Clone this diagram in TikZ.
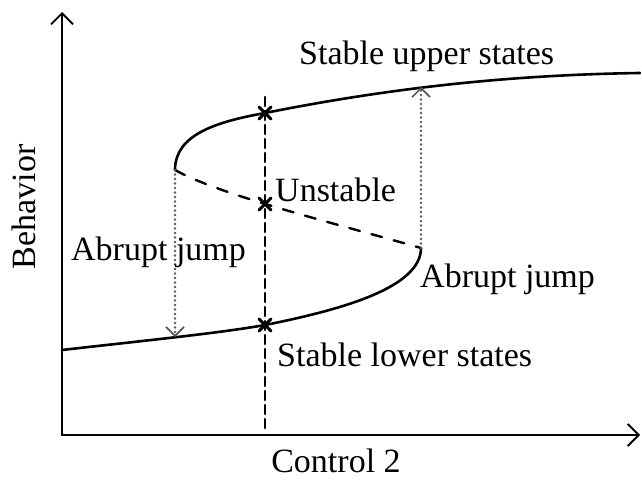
\documentclass[tikz,border=0pt]{standalone}
\usepackage{fontspec}
\setmainfont{Liberation Serif}
\usetikzlibrary{arrows.meta}
\begin{document}
\begin{tikzpicture}[x=1pt, y=-1pt, line cap=round,
  every node/.style={font=\fontsize{34}{40}\selectfont, inner sep=0pt},
  branch/.style={line width=2.6pt},
  jump/.style={gray!70!black, line width=2.8pt, dash pattern=on 0pt off 4.5pt, -{Straight Barb[length=9pt, width=18pt, line width=1.6pt]}},
  cross/.style={line width=3pt}]
\useasboundingbox (0,0) rectangle (642,479);

% Axes
\draw[line width=2.2pt, -{Straight Barb[length=11pt, width=22pt, line width=1.8pt]}] (62,435) -- (62,12);
\draw[line width=2.2pt, -{Straight Barb[length=11pt, width=22pt, line width=1.8pt]}] (62,435) -- (640,435);
\node[rotate=90, anchor=base] (ylab) at (35,207) {Behavior};
\node[anchor=base] (xlab) at (336,472) {Control 2};

% Turning points and crossings
\coordinate (upturn) at (175,170);
\coordinate (lowturn) at (421,248);
\coordinate (upland) at (175,337);
\coordinate (lowland) at (421,87);
\coordinate (xup) at (265,113);
\coordinate (xmid) at (265,204);
\coordinate (xlow) at (265,325);

% Stable branches
\draw[branch] (upturn) .. controls (175,135) and (215,122) .. (xup)
  .. controls (380,90) and (500,75) .. (640,73);
\draw[branch] (62,350) .. controls (150,340) and (220,333) .. (xlow)
  .. controls (340,310) and (421,288) .. (lowturn);

% Unstable branch
\draw[line width=2.4pt, dash pattern=on 11pt off 12pt] (upturn) .. controls (220,195) and (330,222) .. (lowturn);

% Control line
\draw[line width=2.6pt, dash pattern=on 9pt off 5pt] (265,97) -- (265,431);

% Abrupt jumps
\draw[jump] (upturn) -- (upland);
\draw[jump] (lowturn) -- (lowland);

% Crossing marks
\foreach \p in {xup, xmid, xlow} {
  \draw[cross] ([shift={(-6,-6)}]\p) -- ([shift={(6,6)}]\p);
  \draw[cross] ([shift={(-6,6)}]\p) -- ([shift={(6,-6)}]\p);
}

% Labels
\node[anchor=base west] (uplab) at (299,64) {Stable upper states};
\node[anchor=base west] (unlab) at (275,201) {Unstable};
\node[anchor=base west] (jumpl) at (71,260) {Abrupt jump};
\node[anchor=base west] (jumpr) at (420,287) {Abrupt jump};
\node[anchor=base west] (lowlab) at (277,366) {Stable lower states};
\end{tikzpicture}
\end{document}
